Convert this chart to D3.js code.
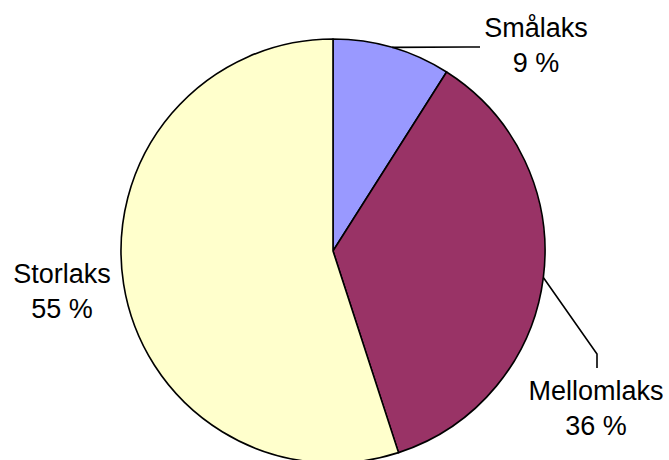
<!DOCTYPE html>
<html lang="en">
<head>
    <meta charset="UTF-8">
    <title>Laks</title>
    <style>
        body {
            margin: 0;
            background-color: #fff;
        }
        svg {
            display: block;
        }
        .lbl {
            font-family: 'Liberation Sans', Arial, sans-serif;
            font-size: 27px;
            fill: #000;
        }
    </style>
    <script src="https://d3js.org/d3.v7.min.js"></script>
</head>
<body>
    <div id="chart"></div>
    <script>
        // data
        var categories = ["Smålaks", "Mellomlaks", "Storlaks"];
        var values = [9, 36, 55];
        var colors = ["#9999FF", "#993366", "#FFFFCC"];

        var width = 669;
        var height = 460;
        var cx = 333, cy = 251, radius = 212;

        // label placement (centre x, first baseline) and leader elbows
        var labelPos = [
            { x: 536, y: 37, leader: [[467, 47], [480, 47]] },
            { x: 596, y: 400, leader: [[597, 354], [597, 368]] },
            { x: 62, y: 283, leader: null }
        ];

        var svg = d3.select("#chart")
            .append("svg")
            .attr("width", width)
            .attr("height", height);

        var pie = d3.pie().sort(null).value(function(d) { return d; });
        var arcs = pie(values);

        var arc = d3.arc().innerRadius(0).outerRadius(radius);
        var edge = d3.arc().innerRadius(radius).outerRadius(radius);

        var g = svg.append("g").attr("transform", "translate(" + cx + "," + cy + ")");

        g.selectAll("path.slice")
            .data(arcs)
            .enter()
            .append("path")
            .attr("class", "slice")
            .attr("d", arc)
            .style("fill", function(d, i) { return colors[i]; })
            .style("stroke", "#000")
            .style("stroke-width", 1.6)
            .style("stroke-linejoin", "round");

        // leader lines from the middle of the slice edge
        arcs.forEach(function(d, i) {
            var lp = labelPos[i];
            if (!lp.leader) return;
            var p = edge.centroid(d);
            var pts = [[cx + p[0], cy + p[1]]].concat(lp.leader);
            svg.append("path")
                .attr("d", d3.line()(pts))
                .style("fill", "none")
                .style("stroke", "#000")
                .style("stroke-width", 1.6);
        });

        // labels
        arcs.forEach(function(d, i) {
            var lp = labelPos[i];
            var t = svg.append("text")
                .attr("class", "lbl")
                .attr("text-anchor", "middle");
            t.append("tspan").attr("x", lp.x).attr("y", lp.y).text(categories[i]);
            t.append("tspan").attr("x", lp.x).attr("y", lp.y + 35).text(values[i] + " %");
        });
    </script>
</body>
</html>
